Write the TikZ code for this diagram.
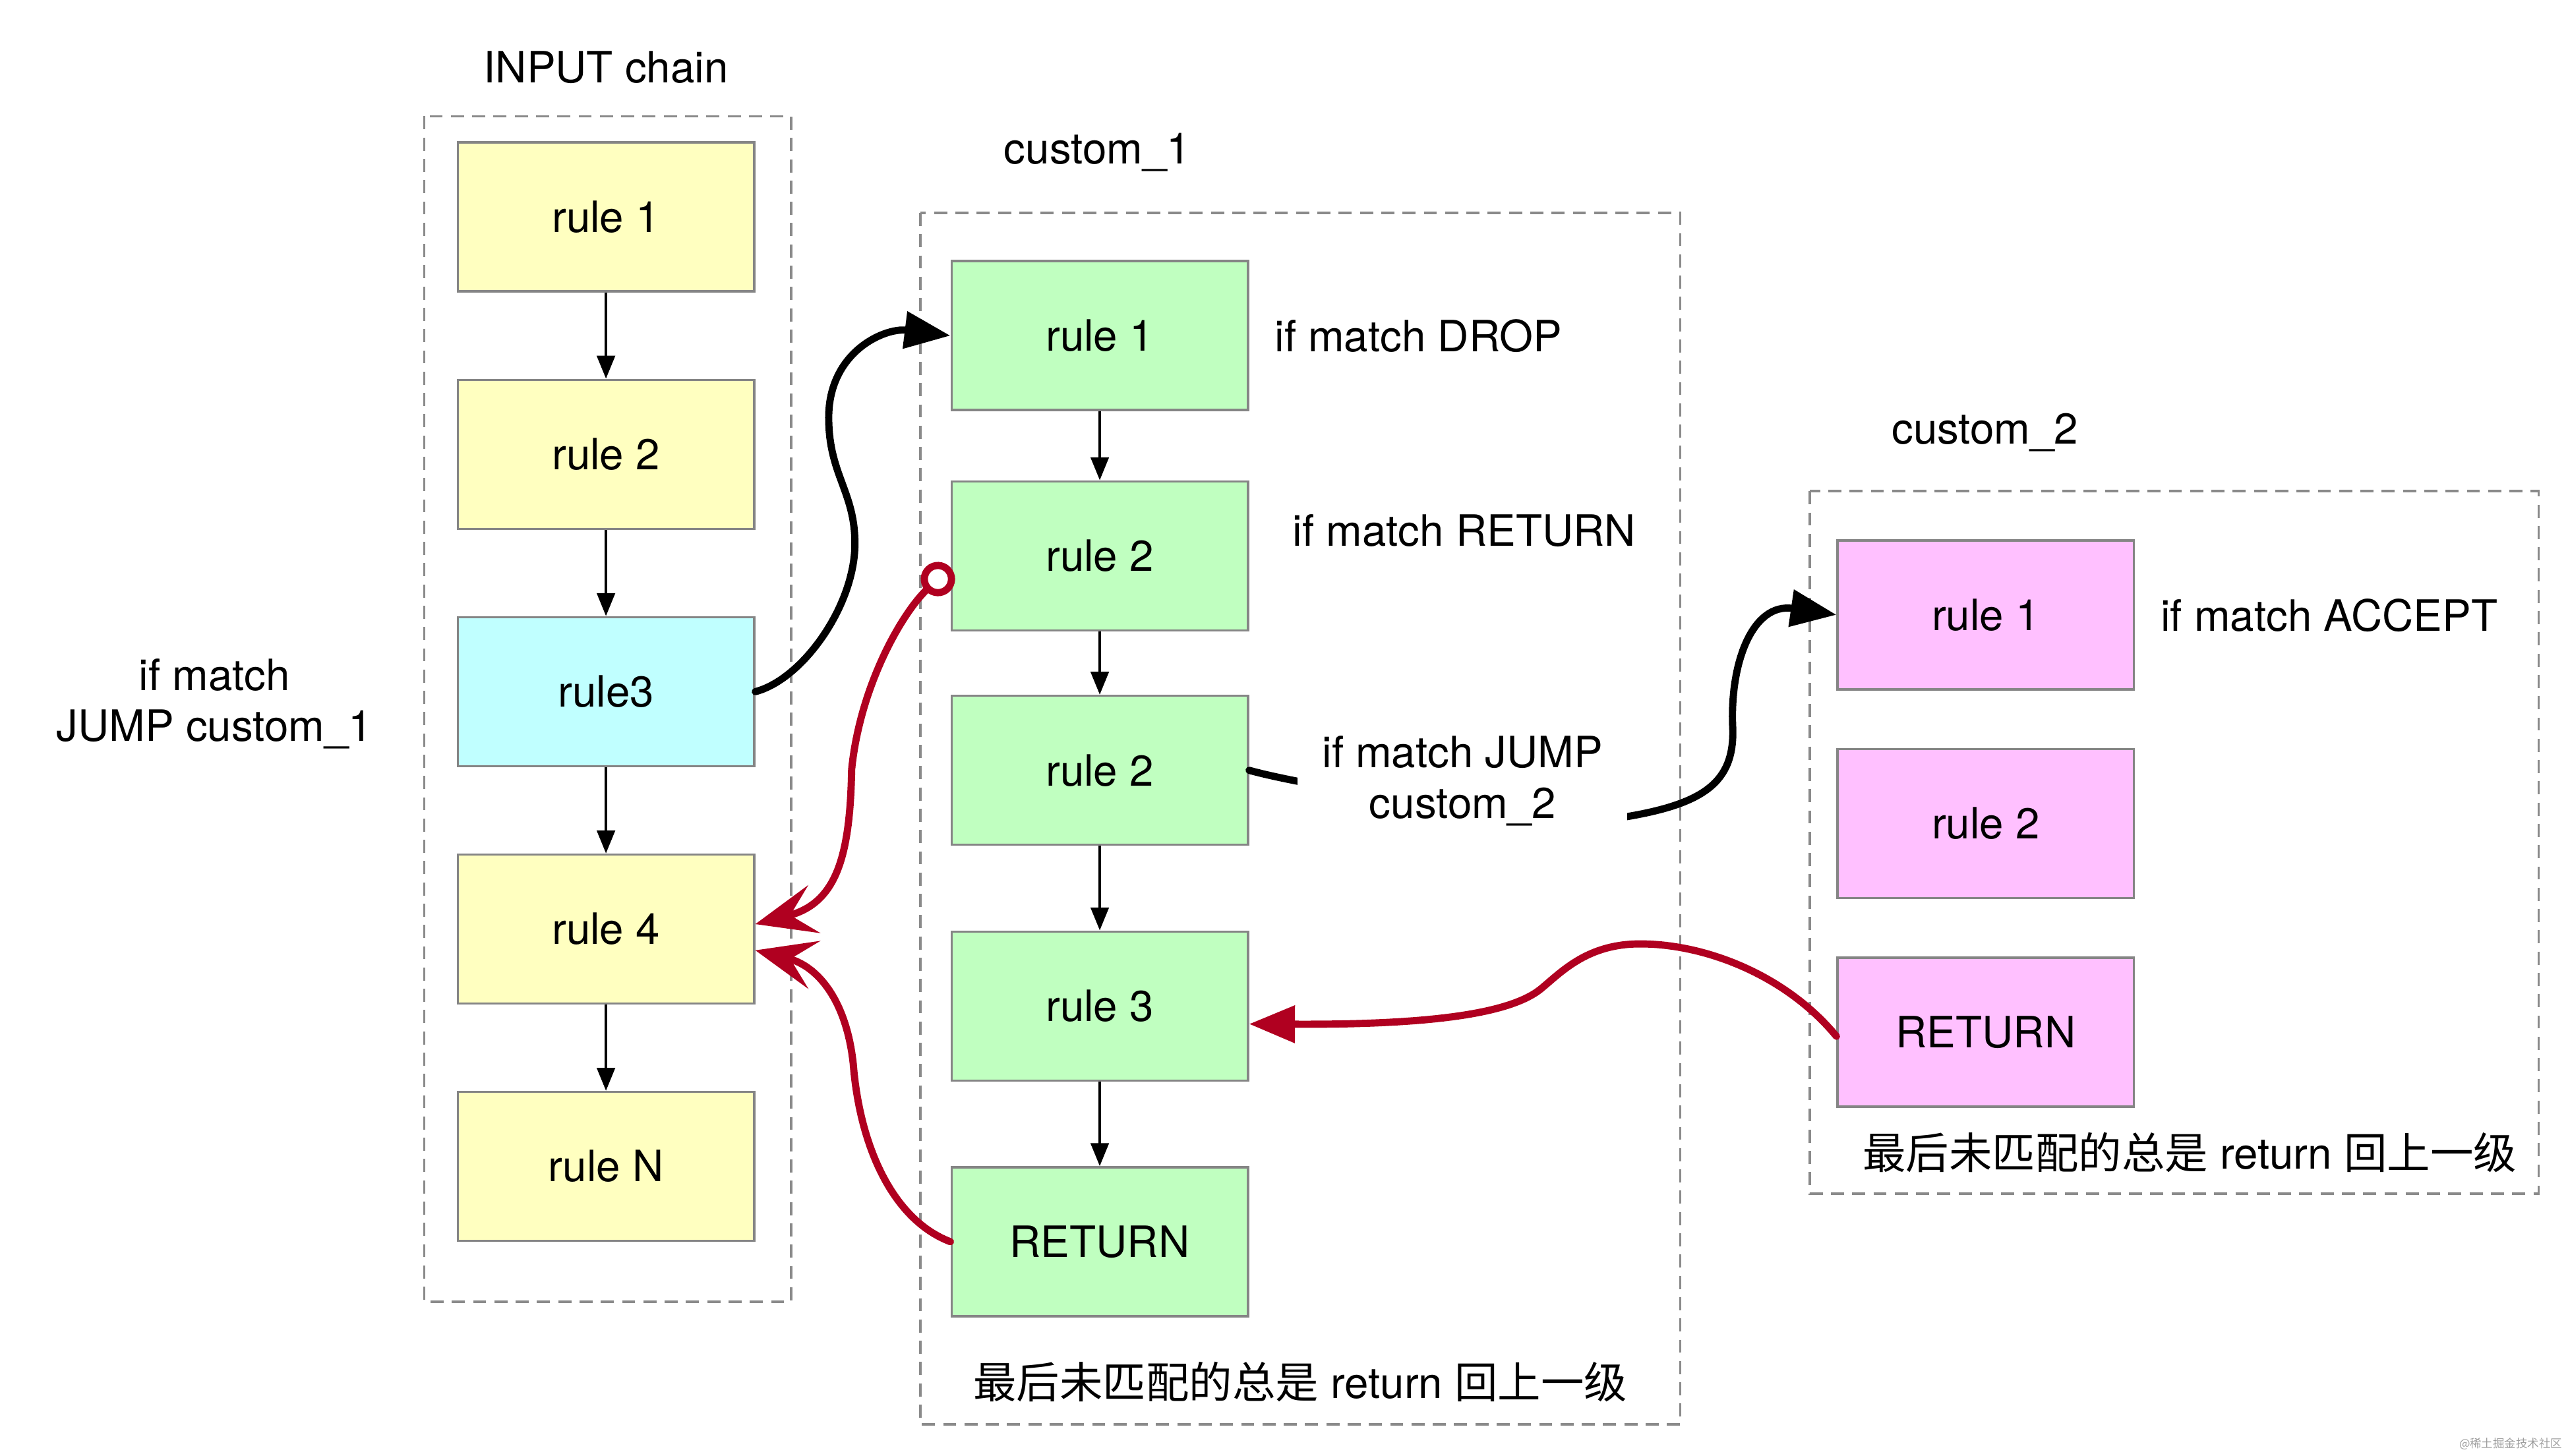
\documentclass[tikz,border=0pt]{standalone}
\usepackage{fontspec}
\setmainfont{TeX Gyre Heros}
\newfontfamily\cjkfont{Noto Sans CJK SC}
\usetikzlibrary{arrows.meta, positioning}

\definecolor{ruleyellow}{HTML}{FFFFC0}
\definecolor{rulecyan}{HTML}{C0FFFF}
\definecolor{rulegreen}{HTML}{C0FFC0}
\definecolor{rulepink}{HTML}{FFC0FF}
\definecolor{boxgray}{HTML}{858585}
\definecolor{dashgray}{HTML}{8A8A8A}
\definecolor{backred}{HTML}{B00020}

\begin{document}
\begin{tikzpicture}[x=0.02cm, y=-0.02cm, node distance=2.9cm,
    font=\fontsize{15}{17.6}\selectfont,
    rulebox/.style={draw=boxgray, line width=0.8pt, minimum width=3.62cm, minimum height=1.82cm, inner sep=0pt},
    chainframe/.style={draw=dashgray, line width=0.8pt, dash pattern=on 0.16cm off 0.1cm},
    note/.style={inner sep=0pt},
    flow/.style={line width=0.9pt, -{Triangle[length=0.28cm, width=0.22cm]}},
    jump/.style={line width=2.5pt, line cap=round, -{Triangle[length=0.56cm, width=0.44cm]}},
    back/.style={draw=backred, line width=2.5pt, line cap=round}]
    \useasboundingbox (0,0) rectangle (1568,889);

    % INPUT chain
    \node (inlabel) at (370,41) {INPUT chain};
    \node (in1) [rulebox, fill=ruleyellow] at (370,132.5) {rule 1};
    \node (in2) [rulebox, fill=ruleyellow, below of=in1] {rule 2};
    \node (in3) [rulebox, fill=rulecyan, below of=in2] {rule3};
    \node (in4) [rulebox, fill=ruleyellow, below of=in3] {rule 4};
    \node (inN) [rulebox, fill=ruleyellow, below of=in4] {rule N};
    \draw[chainframe] (259,71) rectangle (483,795);
    \node (injump) [align=center] at (131,430) {if match\\JUMP custom\_1};

    % custom_1
    \node (c1label) at (670,93) {custom\_1};
    \node (c1r1) [rulebox, fill=rulegreen] at (671.5,205) {rule 1};
    \node (c1r2) [rulebox, fill=rulegreen, below of=c1r1, node distance=2.69cm] {rule 2};
    \node (c1r2j) [rulebox, fill=rulegreen, below of=c1r2, node distance=2.62cm] {rule 2};
    \node (c1r3) [rulebox, fill=rulegreen, below of=c1r2j, node distance=2.88cm] {rule 3};
    \node (c1ret) [rulebox, fill=rulegreen, below of=c1r3, node distance=2.88cm] {RETURN};
    \draw[chainframe] (562,130) rectangle (1026,870);
    \node (c1drop) [note, anchor=west] at (778,205) {if match DROP};
    \node (c1return) [note, anchor=west] at (789,324) {if match RETURN};
    \node (c1note) at (794,844) {{\cjkfont 最后未匹配的总是} return {\cjkfont 回上一级}};

    % custom_2
    \node (c2label) at (1212,264) {custom\_2};
    \node (c2r1) [rulebox, fill=rulepink] at (1212.5,375.5) {rule 1};
    \node (c2r2) [rulebox, fill=rulepink, below of=c2r1, node distance=2.55cm] {rule 2};
    \node (c2ret) [rulebox, fill=rulepink, below of=c2r2, node distance=2.55cm] {RETURN};
    \draw[chainframe] (1105,300) rectangle (1550,729);
    \node (c2accept) [note, anchor=west] at (1319,376) {if match ACCEPT};
    \node (c2note) at (1337,704) {{\cjkfont 最后未匹配的总是} return {\cjkfont 回上一级}};

    % Arrows
    \draw[flow] (in1) -- (in2);
    \draw[flow] (in2) -- (in3);
    \draw[flow] (in3) -- (in4);
    \draw[flow] (in4) -- (inN);
    \draw[flow] (c1r1) -- (c1r2);
    \draw[flow] (c1r2) -- (c1r2j);
    \draw[flow] (c1r2j) -- (c1r3);
    \draw[flow] (c1r3) -- (c1ret);

    % Jumps
    \draw[jump] (in3.east) .. controls (490,415) and (522,370) .. (522,332)
        .. controls (522,300) and (506,290) .. (506,255)
        .. controls (506,215) and (540,200) .. (c1r1.west);
    \draw[jump] (c1r2j.east) .. controls (800,481) and (950,505) .. (992,499)
        .. controls (1040,491) and (1059,478) .. (1058,445)
        .. controls (1056,405) and (1070,368) .. (c2r1.west);
    \node (c1jump) [align=center, fill=white, inner xsep=0.3cm, inner ysep=0.2cm] at (893,477) {if match JUMP\\custom\_2};

    % Returns
    \draw[back, {Circle[open, length=0.42cm, width=0.42cm, fill=white]}-{Stealth[length=0.74cm, width=0.6cm, inset=0.3cm]}]
        ([yshift=-0.14cm]c1r2.west) .. controls (550,375) and (525,420) .. (520,470)
        .. controls (519,525) and (510,552) .. ([yshift=0.06cm]in4.east);
    \draw[back, -{Stealth[length=0.74cm, width=0.6cm, inset=0.3cm]}]
        (c1ret.west) .. controls (545,745) and (525,700) .. (521,650)
        .. controls (517,612) and (500,590) .. ([yshift=-0.26cm]in4.east);
    \draw[back, -{Triangle[length=0.56cm, width=0.44cm]}]
        ([yshift=-0.05cm]c2ret.west) .. controls (1090,595) and (1040,576) .. (1000,576.5)
        .. controls (970,577) and (955,592) .. (942,603)
        .. controls (925,618) and (880,626) .. ([yshift=-0.22cm]c1r3.east);

    \node (mark) [text=black!38, font=\cjkfont\fontsize{4}{5}\selectfont] at (1533,882) {@稀土掘金技术社区};
\end{tikzpicture}
\end{document}
